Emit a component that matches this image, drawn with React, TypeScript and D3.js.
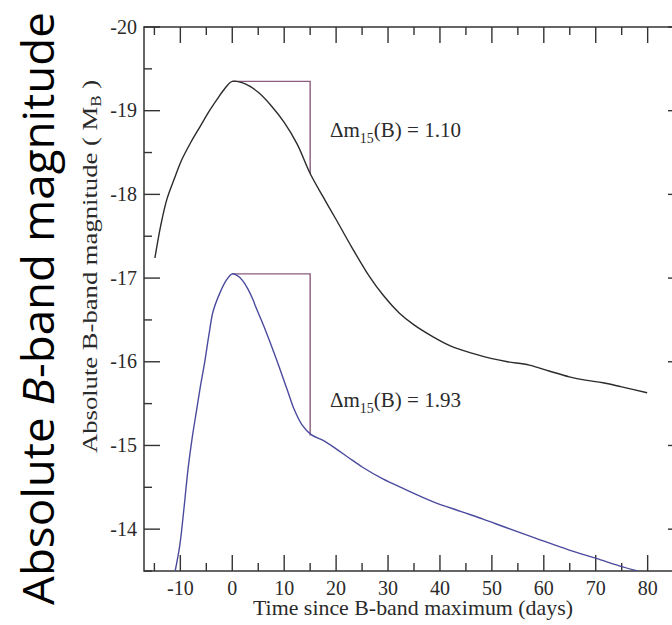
import React from "react";
import * as d3 from "d3";

// Light curve, Δm15(B) = 1.10 (black)
const slowDays = [-14.9, -13.8, -12.6, -11.2, -9.75, -8, -6.2, -4.5, -3, -1.5, 0, 2.5, 5, 7.5, 10, 12.5, 15, 17.5, 20, 23, 26.4, 29, 32.2, 35, 38.6, 42, 46.3, 49.8, 53, 57.2, 61, 64.9, 68, 71.4, 75, 79.9];
const slowMags = [-17.24, -17.62, -17.94, -18.18, -18.41, -18.62, -18.81, -18.99, -19.13, -19.26, -19.35, -19.32, -19.22, -19.06, -18.86, -18.6, -18.25, -17.97, -17.7, -17.37, -17.02, -16.8, -16.58, -16.44, -16.3, -16.19, -16.1, -16.04, -16.0, -15.96, -15.89, -15.82, -15.78, -15.75, -15.7, -15.63];

// Light curve, Δm15(B) = 1.93 (blue)
const fastDays = [-11.0, -10.1, -9.3, -8.5, -7.7, -6.9, -6.1, -5.3, -4.5, -3.7, -2.4, -1.2, 0, 1, 2, 3, 4, 4.5, 6.5, 8.5, 10.5, 12.0, 13.4, 15.2, 17.5, 20, 22.5, 25.1, 29, 32.8, 38.6, 44.1, 48.3, 52.7, 58.5, 64.9, 70.1, 75.2, 78.1];
const fastMags = [-13.5, -13.81, -14.25, -14.73, -15.1, -15.41, -15.72, -16.0, -16.32, -16.6, -16.82, -16.97, -17.05, -17.03, -16.97, -16.87, -16.74, -16.66, -16.36, -16.03, -15.68, -15.42, -15.25, -15.13, -15.06, -14.96, -14.85, -14.74, -14.6, -14.49, -14.33, -14.21, -14.12, -14.02, -13.89, -13.75, -13.65, -13.55, -13.5];

// Δm15 boxes: [peak day, peak mag, day+15, mag at day 15]
const slowBox = [0, -19.35, 15, -18.25];
const fastBox = [0, -17.05, 15, -15.12];
const slowLabel = "1.10";
const fastLabel = "1.93";

const xMajorTicks = [-10, 0, 10, 20, 30, 40, 50, 60, 70, 80];
const xMinorTicks = [-15, -5, 5, 15, 25, 35, 45, 55, 65, 75, 85];
const yMajorTicks = [-20, -19, -18, -17, -16, -15, -14];
const yMinorTicks = [-19.5, -18.5, -17.5, -16.5, -15.5, -14.5, -13.5];

export default function App() {
  const L = 144, R = 684, T = 27, B = 571;
  const x = d3.scaleLinear().domain([-17, 87]).range([L, R]);
  const y = d3.scaleLinear().domain([-20, -13.5]).range([T, B]);
  const line = d3
    .line<[number, number]>()
    .x((d) => x(d[0]))
    .y((d) => y(d[1]))
    .curve(d3.curveCatmullRom.alpha(0.5));
  const slow: [number, number][] = slowDays.map((d, i) => [d, slowMags[i]]);
  const fast: [number, number][] = fastDays.map((d, i) => [d, fastMags[i]]);

  const axisColor = "#333";
  const labelColor = "#2a2a2a";
  const serifStyle = { fontFamily: "Liberation Serif, Times New Roman, Times, serif" };
  const boxColor = "#8a5c80";
  const majorLen = 16, minorLen = 8;

  const boxPath = (b: number[]) =>
    `M${x(b[0])},${y(b[1])}H${x(b[2])}V${y(b[3])}`;

  return (
    <svg
      width={672}
      height={625}
      style={{ position: "absolute", left: 0, top: 0, background: "#fff" }}
    >
      <rect x={0} y={0} width={672} height={625} fill="#fff" />
      <defs>
        <clipPath id="plotclip">
          <rect x={L} y={T} width={R - L} height={B - T} />
        </clipPath>
      </defs>

      {/* frame */}
      <rect x={L} y={T} width={R - L} height={B - T} fill="none" stroke={axisColor} strokeWidth={1.5} />

      {/* x ticks top & bottom */}
      {xMajorTicks.map((t) => (
        <g key={"xM" + t} stroke={axisColor} strokeWidth={1.4}>
          <line x1={x(t)} x2={x(t)} y1={B} y2={B - majorLen} />
          <line x1={x(t)} x2={x(t)} y1={T} y2={T + majorLen} />
        </g>
      ))}
      {xMinorTicks.map((t) => (
        <g key={"xm" + t} stroke={axisColor} strokeWidth={1.4}>
          <line x1={x(t)} x2={x(t)} y1={B} y2={B - minorLen} />
          <line x1={x(t)} x2={x(t)} y1={T} y2={T + minorLen} />
        </g>
      ))}
      {/* y ticks left & right */}
      {yMajorTicks.map((t) => (
        <g key={"yM" + t} stroke={axisColor} strokeWidth={1.4}>
          <line x1={L} x2={L + majorLen} y1={y(t)} y2={y(t)} />
          <line x1={R} x2={R - majorLen} y1={y(t)} y2={y(t)} />
        </g>
      ))}
      {yMinorTicks.map((t) => (
        <g key={"ym" + t} stroke={axisColor} strokeWidth={1.4}>
          <line x1={L} x2={L + minorLen} y1={y(t)} y2={y(t)} />
          <line x1={R} x2={R - minorLen} y1={y(t)} y2={y(t)} />
        </g>
      ))}

      {/* tick labels */}
      {xMajorTicks.map((t) => (
        <text key={"xl" + t} x={x(t)} y={595} textAnchor="middle" style={serifStyle} fontSize={20} fill={labelColor}>
          {t}
        </text>
      ))}
      {yMajorTicks.map((t) => (
        <text key={"yl" + t} x={L - 7} y={y(t) + 6.5} textAnchor="end" style={serifStyle} fontSize={20} fill={labelColor}>
          {t}
        </text>
      ))}

      {/* axis titles */}
      <text x={413} y={615} textAnchor="middle" style={serifStyle} fontSize={22} fill={labelColor} textLength={320} lengthAdjust="spacingAndGlyphs">
        Time since B-band maximum (days)
      </text>
      <text
        transform={`translate(97,453) rotate(-90)`}
        x={0}
        y={0}
        style={serifStyle}
        fontSize={22}
        fill={labelColor}
        textLength={373}
        lengthAdjust="spacingAndGlyphs"
      >
        Absolute B-band magnitude ( M<tspan fontSize={14} dy={4}>B</tspan><tspan dy={-4}> )</tspan>
      </text>

      {/* boxes */}
      <path d={boxPath(slowBox)} fill="none" stroke={boxColor} strokeWidth={1.4} />
      <path d={boxPath(fastBox)} fill="none" stroke={boxColor} strokeWidth={1.4} />

      {/* curves */}
      <g clipPath="url(#plotclip)">
        <path d={line(slow) || ""} fill="none" stroke="#2b2b2b" strokeWidth={1.4} />
        <path d={line(fast) || ""} fill="none" stroke="#4b4b9e" strokeWidth={1.4} />
      </g>

      {/* annotations */}
      <text x={330} y={137} style={serifStyle} fontSize={21} fill={labelColor}>
        Δm<tspan fontSize={14} dy={6}>15</tspan><tspan dy={-6}>(B) = {slowLabel}</tspan>
      </text>
      <text x={330} y={407} style={serifStyle} fontSize={21} fill={labelColor}>
        Δm<tspan fontSize={14} dy={6}>15</tspan><tspan dy={-6}>(B) = {fastLabel}</tspan>
      </text>

      {/* large overlay label */}
      <text
        transform={`translate(54,605) rotate(-90)`}
        x={0}
        y={0}
        fontFamily="'Open Sans', Lato, sans-serif"
        fontSize={44}
        fill="#000"
        textLength={593}
        lengthAdjust="spacingAndGlyphs"
      >
        Absolute <tspan fontStyle="italic">B</tspan>-band magnitude
      </text>
    </svg>
  );
}
